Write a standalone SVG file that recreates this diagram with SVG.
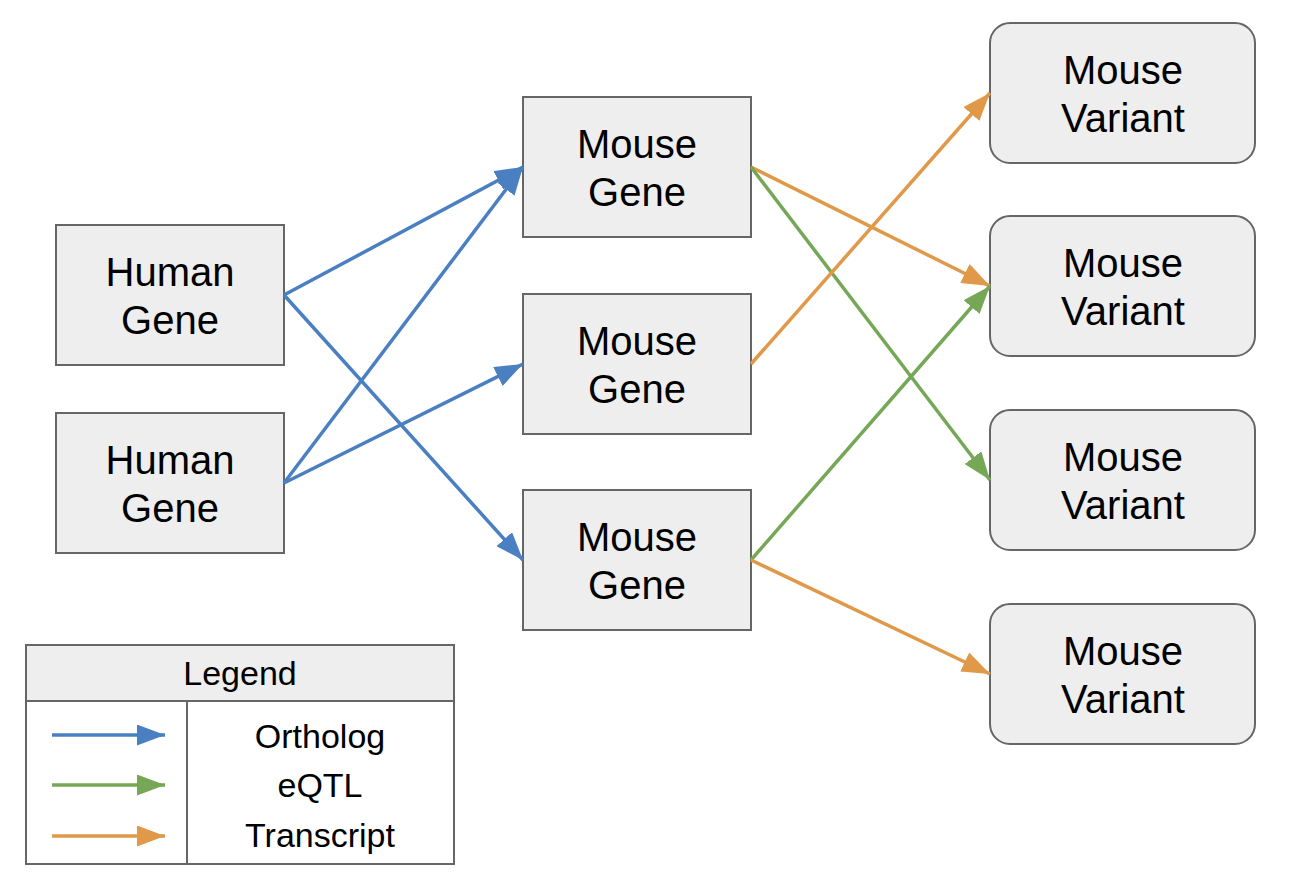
<svg xmlns="http://www.w3.org/2000/svg" width="1294" height="895" viewBox="0 0 1294 895">
<style>
.box{fill:#eeeeee;stroke:#666666;stroke-width:2}
.t{font-family:"Liberation Sans",Arial,sans-serif;font-size:40px;fill:#000;text-anchor:middle}
.lt{font-family:"Liberation Sans",Arial,sans-serif;font-size:34px;fill:#000;text-anchor:middle}
.bl{stroke:#4a7fc1;stroke-width:3.5;fill:none}
.gr{stroke:#76a757;stroke-width:3.5;fill:none}
.or{stroke:#e09949;stroke-width:3.5;fill:none}
</style>
<defs>
<marker id="ab" markerUnits="userSpaceOnUse" markerWidth="28" markerHeight="21" refX="28" refY="10.5" orient="auto"><path d="M0,0 L28,10.5 L0,21 z" fill="#4a7fc1"/></marker>
<marker id="ag" markerUnits="userSpaceOnUse" markerWidth="28" markerHeight="21" refX="28" refY="10.5" orient="auto"><path d="M0,0 L28,10.5 L0,21 z" fill="#76a757"/></marker>
<marker id="ao" markerUnits="userSpaceOnUse" markerWidth="28" markerHeight="21" refX="28" refY="10.5" orient="auto"><path d="M0,0 L28,10.5 L0,21 z" fill="#e09949"/></marker>
</defs>
<rect width="1294" height="895" fill="#ffffff"/>

<g id="human1"><rect class="box" x="56" y="225" width="228" height="140"/><text class="t" x="170" y="286">Human</text><text class="t" x="170" y="334">Gene</text></g>
<g id="human2"><rect class="box" x="56" y="413" width="228" height="140"/><text class="t" x="170" y="474">Human</text><text class="t" x="170" y="522">Gene</text></g>

<g id="mouse1"><rect class="box" x="523" y="97" width="228" height="140"/><text class="t" x="637" y="158">Mouse</text><text class="t" x="637" y="206">Gene</text></g>
<g id="mouse2"><rect class="box" x="523" y="294" width="228" height="140"/><text class="t" x="637" y="355">Mouse</text><text class="t" x="637" y="403">Gene</text></g>
<g id="mouse3"><rect class="box" x="523" y="490" width="228" height="140"/><text class="t" x="637" y="551">Mouse</text><text class="t" x="637" y="599">Gene</text></g>

<g id="variant1"><rect class="box" x="990" y="23" width="265" height="140" rx="20"/><text class="t" x="1123" y="84">Mouse</text><text class="t" x="1123" y="132">Variant</text></g>
<g id="variant2"><rect class="box" x="990" y="216" width="265" height="140" rx="20"/><text class="t" x="1123" y="277">Mouse</text><text class="t" x="1123" y="325">Variant</text></g>
<g id="variant3"><rect class="box" x="990" y="410" width="265" height="140" rx="20"/><text class="t" x="1123" y="471">Mouse</text><text class="t" x="1123" y="519">Variant</text></g>
<g id="variant4"><rect class="box" x="990" y="604" width="265" height="140" rx="20"/><text class="t" x="1123" y="665">Mouse</text><text class="t" x="1123" y="713">Variant</text></g>

<g id="connectors">
<line class="bl" x1="284" y1="295" x2="523" y2="167" marker-end="url(#ab)"/>
<line class="bl" x1="284" y1="295" x2="523" y2="560" marker-end="url(#ab)"/>
<line class="bl" x1="284" y1="483" x2="523" y2="167" marker-end="url(#ab)"/>
<line class="bl" x1="284" y1="483" x2="523" y2="364" marker-end="url(#ab)"/>
<line class="or" x1="751" y1="167" x2="990" y2="286" marker-end="url(#ao)"/>
<line class="gr" x1="751" y1="167" x2="990" y2="480" marker-end="url(#ag)"/>
<line class="or" x1="751" y1="364" x2="990" y2="93" marker-end="url(#ao)"/>
<line class="gr" x1="751" y1="560" x2="990" y2="286" marker-end="url(#ag)"/>
<line class="or" x1="751" y1="560" x2="990" y2="674" marker-end="url(#ao)"/>
</g>

<g id="legend">
<rect x="26" y="645" width="428" height="56" fill="#eeeeee" stroke="#666666" stroke-width="2"/>
<rect x="26" y="701" width="428" height="163" fill="#ffffff" stroke="#666666" stroke-width="2"/>
<line x1="187" y1="701" x2="187" y2="864" stroke="#666666" stroke-width="2"/>
<text class="lt" x="240" y="685">Legend</text>
<line class="bl" x1="52" y1="735" x2="165" y2="735" marker-end="url(#ab)"/>
<line class="gr" x1="52" y1="785" x2="165" y2="785" marker-end="url(#ag)"/>
<line class="or" x1="52" y1="836" x2="165" y2="836" marker-end="url(#ao)"/>
<text class="lt" x="320" y="748">Ortholog</text>
<text class="lt" x="320" y="797">eQTL</text>
<text class="lt" x="320" y="847">Transcript</text>
</g>
</svg>
